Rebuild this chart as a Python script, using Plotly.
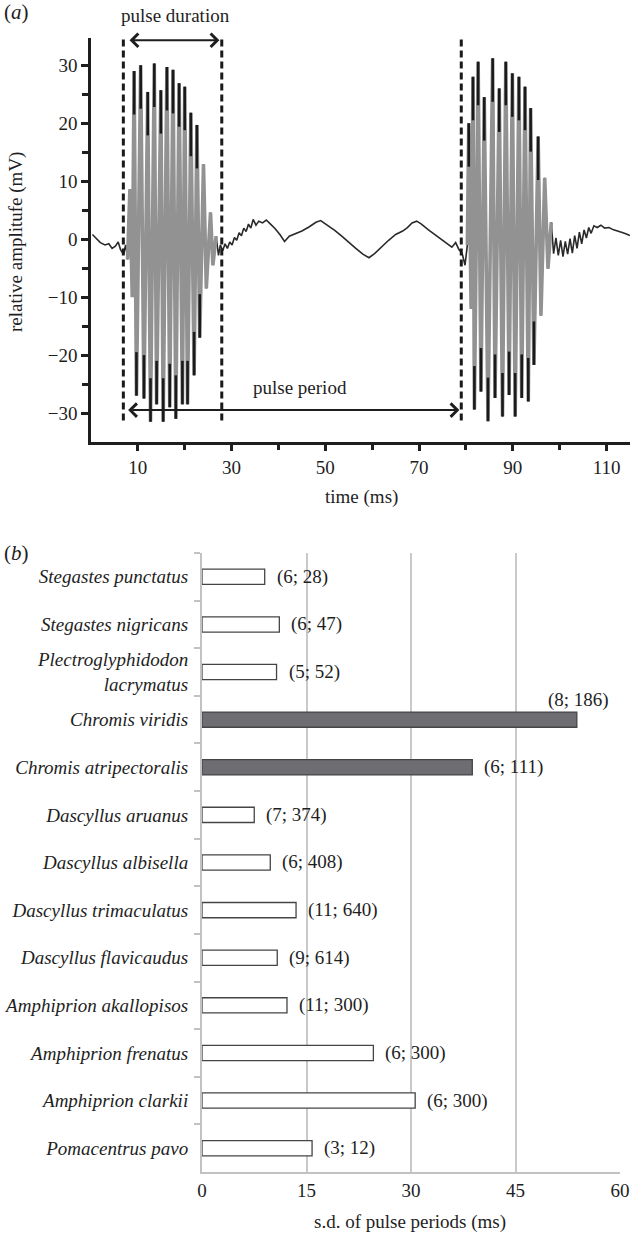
import plotly.graph_objects as go

# ---------------- Panel (a): waveform ----------------
time_ms = [
    0.3, 1.0, 2.0, 3.0, 3.8, 4.5, 5.2, 5.8, 6.3, 6.9, 7.4,
    7.8, 8.3, 8.8, 9.2, 9.7, 10.6, 11.3, 12.1, 12.7, 13.5, 14.0, 14.9, 15.4, 16.2, 16.8,
    17.5, 18.1, 18.8, 19.5, 20.0, 20.6, 21.3, 22.0, 22.6, 23.2, 24.0, 24.6, 25.5, 26.0, 26.7,
    27.2, 27.6, 28.1, 28.6, 29.1, 29.6, 30.1, 30.6, 31.1, 31.6, 32.1, 32.6, 33.1, 33.6, 34.1,
    34.6, 35.2, 35.8, 36.6, 37.4, 38.3, 39.3, 40.3, 41.3, 42.3, 43.5, 45.0, 46.5, 48.0, 49.0,
    50.5, 52.0, 53.5, 55.0, 56.5, 58.0, 59.3, 60.5, 62.0, 63.5, 65.0, 66.5, 67.5, 68.5, 69.5,
    70.5, 72.0, 73.5, 75.0, 76.2, 77.0, 77.8, 78.5, 79.2, 79.8,
    80.3, 80.6, 81.1, 81.5, 81.8, 82.6, 83.2, 83.9, 84.7, 85.7, 86.2, 87.1, 87.8, 88.5, 89.2,
    89.9, 90.5, 91.3, 91.9, 92.6, 93.3, 93.8, 94.5, 95.4, 96.0, 96.8, 97.5, 98.2,
    98.7, 99.2, 99.7, 100.2, 100.7, 101.2, 101.7, 102.2, 102.7, 103.2, 103.7, 104.2, 104.7,
    105.2, 105.7, 106.2, 106.7, 107.3, 108.0, 108.8, 109.6, 110.5, 111.5, 112.5, 113.5, 114.5, 115.0,
]
amplitude_mv = [
    0.8, 0.2, -0.6, -1.0, -0.8, -1.6, -1.2, -0.5, -1.8, -2.6, -1.0,
    -3.5, 8.6, -10.0, 29.0, -27.0, 30.0, -27.5, 25.4, -31.5, 30.3, -28.5, 25.7, -31.5, 29.7, -29.0,
    29.2, -31.0, 26.9, -28.5, 26.3, -28.5, 21.8, -23.5, 19.7, -17.0, 12.9, -8.5, 4.6, -4.5, 0.5,
    -2.8, -1.0, -2.0, -0.8, -1.6, -0.5, -1.0, 0.3, -0.2, 1.1, 0.6, 1.9, 1.3, 2.6, 1.9,
    3.4, 2.4, 3.1, 2.8, 3.3, 2.6, 1.8, 0.8, -0.4, 0.5, 0.9, 1.4, 2.1, 2.9, 3.2,
    2.4, 1.5, 0.5, -0.6, -1.6, -2.6, -3.2, -2.5, -1.3, -0.2, 0.8, 1.4, 2.0, 2.8, 3.1,
    2.6, 1.6, 0.7, -0.2, -0.8, -1.4, -0.6, -1.8, -2.5, -4.5,
    -1.0, 20.0, -12.0, 28.0, -29.4, 30.6, -26.3, 24.5, -31.4, 31.2, -27.4, 26.0, -30.6, 30.6, -26.9,
    28.6, -30.6, 28.0, -27.4, 26.3, -28.0, 22.6, -21.7, 17.7, -13.2, 10.6, -5.1, 2.9,
    -2.5, 0.2, -2.8, -0.2, -3.0, -0.4, -2.6, 0.1, -2.4, 0.6, -1.6, 1.2, -0.8,
    1.6, 0.2, 2.0, 1.0, 2.3, 2.0, 2.4, 1.9, 2.0, 1.6, 1.4, 1.1, 0.8, 0.6,
]
pulse_windows = [(7.7, 27.0), (80.2, 98.5)]
marker_times = [6.9, 27.9, 79.0]
x_ticks_a = [10, 30, 50, 70, 90, 110]
x_minor_a = [20, 40, 60, 80, 100]
y_ticks_a = [-30, -20, -10, 0, 10, 20, 30]
y_minor_a = [-25, -15, -5, 5, 15, 25]

# ---------------- Panel (b): s.d. of pulse periods ----------------
species = [
    "Stegastes punctatus", "Stegastes nigricans", "Plectroglyphidodon<br>lacrymatus",
    "Chromis viridis", "Chromis atripectoralis", "Dascyllus aruanus", "Dascyllus albisella",
    "Dascyllus trimaculatus", "Dascyllus flavicaudus", "Amphiprion akallopisos",
    "Amphiprion frenatus", "Amphiprion clarkii", "Pomacentrus pavo",
]
sd_periods = [9.0, 11.1, 10.7, 53.8, 38.8, 7.5, 9.8, 13.5, 10.8, 12.2, 24.6, 30.6, 15.8]
sample_labels = ["(6; 28)", "(6; 47)", "(5; 52)", "(8; 186)", "(6; 111)", "(7; 374)", "(6; 408)",
                 "(11; 640)", "(9; 614)", "(11; 300)", "(6; 300)", "(6; 300)", "(3; 12)"]
is_chromis = [False, False, False, True, True, False, False, False, False, False, False, False, False]
x_ticks_b = [0, 15, 30, 45, 60]

W, H = 630, 1235
FONT = "Liberation Serif"
INK = "#1e1e1e"

def px(x):
    return x / W

def py(y):
    return 1 - y / H

fig = go.Figure()

# baseline (dark)
fig.add_trace(go.Scatter(x=time_ms, y=amplitude_mv, mode="lines",
                         line=dict(color="#2a2a2a", width=1.6), xaxis="x", yaxis="y",
                         showlegend=False, hoverinfo="skip"))
# pulses (grey) with dark tips
tip_x, tip_y = [], []
for (t0, t1) in pulse_windows:
    xs, ys = [], []
    for t, v in zip(time_ms, amplitude_mv):
        if t0 <= t <= t1:
            xs.append(t)
            ys.append(v)
            if abs(v) > 15:
                s = 1 if v > 0 else -1
                tip_x += [t, t, None]
                tip_y += [v, v - s * 7.5, None]
    fig.add_trace(go.Scatter(x=xs, y=ys, mode="lines",
                             line=dict(color="#929292", width=3.6), xaxis="x", yaxis="y",
                             showlegend=False, hoverinfo="skip"))
fig.add_trace(go.Scatter(x=tip_x, y=tip_y, mode="lines",
                         line=dict(color="#1a1a1a", width=2.6), xaxis="x", yaxis="y",
                         showlegend=False, hoverinfo="skip"))

# bars
fig.add_trace(go.Bar(
    x=sd_periods, y=species, orientation="h",
    marker=dict(color=["#6e6e72" if c else "white" for c in is_chromis],
                line=dict(color="#454545", width=1.3)),
    width=0.32, xaxis="x2", yaxis="y2", showlegend=False, hoverinfo="skip"))

shapes = []
for t in marker_times:
    shapes.append(dict(type="line", xref="x", yref="y", x0=t, x1=t, y0=-31.3, y1=34.6,
                       line=dict(color="#1a1a1a", width=3, dash="7px,4px")))

annotations = []
annotations.append(dict(xref="x", yref="y", axref="x", ayref="y", x=27.4, y=34.3, ax=7.9, ay=34.3,
                        text="", showarrow=True, arrowside="end+start", arrowhead=4, startarrowhead=4,
                        arrowsize=1.3, startarrowsize=1.3, arrowwidth=2, arrowcolor=INK))
annotations.append(dict(xref="x", yref="y", axref="x", ayref="y", x=78.6, y=-29.5, ax=7.6, ay=-29.5,
                        text="", showarrow=True, arrowside="end+start", arrowhead=4, startarrowhead=4,
                        arrowsize=1.3, startarrowsize=1.3, arrowwidth=2, arrowcolor=INK))
txt = dict(family=FONT, size=19, color=INK)

def label(x, y, text, font=txt, **kw):
    d = dict(xref="paper", yref="paper", x=px(x), y=py(y), text=text, showarrow=False,
             xanchor="center", yanchor="middle", font=font)
    d.update(kw)
    return d

annotations += [
    label(16, 12, "(<i>a</i>)", font=dict(family=FONT, size=21, color=INK)),
    label(16, 553, "(<i>b</i>)", font=dict(family=FONT, size=21, color=INK)),
    label(175, 15, "pulse duration"),
    label(300, 387, "pulse period"),
    label(16, 242, "relative amplitufe (mV)", textangle=-90),
    label(361, 497, "time (ms)"),
    label(410, 1222, "s.d. of pulse periods (ms)"),
]
for sp, v, lab in zip(species, sd_periods, sample_labels):
    if v > 45:
        annotations.append(dict(xref="x2", yref="y2", x=v, y=sp, text=lab, showarrow=False,
                                xanchor="center", yanchor="middle", yshift=20, xshift=2, font=txt))
    else:
        annotations.append(dict(xref="x2", yref="y2", x=v, y=sp, text=lab, showarrow=False,
                                xanchor="left", yanchor="middle", xshift=10, font=txt))

fig.update_layout(
    width=W, height=H, margin=dict(l=0, r=0, t=0, b=0, autoexpand=False),
    paper_bgcolor="white", plot_bgcolor="white",
    font=dict(family=FONT, size=19, color=INK),
    shapes=shapes, annotations=annotations, bargap=0.68,
    xaxis=dict(domain=[px(91), 1.0], anchor="y", range=[0, 115], tickvals=x_ticks_a, automargin=False,
               ticks="outside", ticklen=6, tickwidth=2.5, tickcolor=INK,
               minor=dict(tickvals=x_minor_a, ticks="outside", ticklen=5, tickwidth=2.5, tickcolor=INK),
               showline=True, linecolor=INK, linewidth=2.5, showgrid=False, zeroline=False,
               tickfont=dict(family=FONT, size=19, color=INK)),
    yaxis=dict(domain=[py(442), py(38)], anchor="x", range=[-35, 34.7], tickvals=y_ticks_a, automargin=False,
               ticks="outside", ticklen=7, tickwidth=2.5, tickcolor=INK,
               minor=dict(tickvals=y_minor_a, ticks="outside", ticklen=6, tickwidth=2.5, tickcolor=INK),
               showline=True, linecolor=INK, linewidth=2.5, showgrid=False, zeroline=False,
               tickfont=dict(family=FONT, size=19, color=INK)),
    xaxis2=dict(domain=[px(202), px(620)], anchor="y2", range=[0, 60], tickvals=x_ticks_b, automargin=False,
                showgrid=True, gridcolor="#c9c9c9", gridwidth=2, zeroline=False,
                showline=True, linecolor="#c2c2c2", linewidth=2, ticks="",
                tickfont=dict(family=FONT, size=19, color=INK)),
    yaxis2=dict(domain=[py(1172), py(553)], anchor="x2", range=[12.5, -0.5], type="category",
                categoryorder="array", categoryarray=species, automargin=False,
                showline=True, linecolor="#c2c2c2", linewidth=2, showgrid=False, zeroline=False,
                ticks="outside", tickson="boundaries", ticklen=6, tickwidth=2, tickcolor="#c2c2c2",
                ticklabelstandoff=8,
                tickfont=dict(family=FONT, size=19, color=INK, style="italic")),
)

fig.write_html("out.html", config={"displayModeBar": False},
               post_script="document.body.style.margin='0';document.body.style.overflow='hidden';")
